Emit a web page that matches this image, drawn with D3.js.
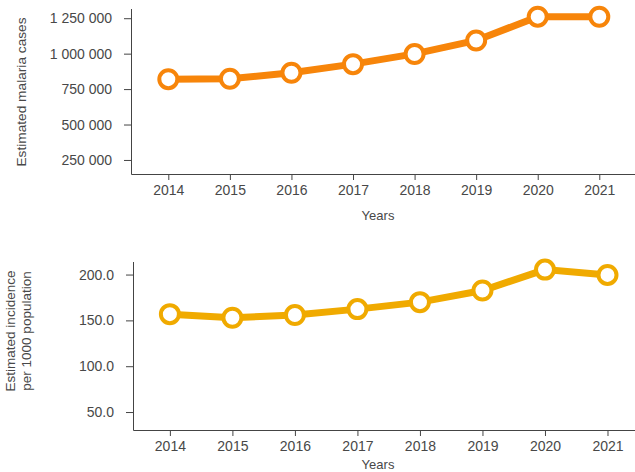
<!DOCTYPE html>
<html>
<head>
<meta charset="utf-8">
<script src="https://cdn.jsdelivr.net/npm/d3@7"></script>
<style>
body { margin: 0; background: #fff; }
svg text { font-family: "Liberation Sans", Arial, sans-serif; fill: #484848; }
.axis line { stroke: #444; }
</style>
</head>
<body>
<div id="chart"></div>
<script>
var years = [2014, 2015, 2016, 2017, 2018, 2019, 2020, 2021];
var cases = [820000, 823000, 865000, 926000, 998000, 1093000, 1261000, 1260000];
var incidence = [156.8, 152.8, 155.8, 162.3, 169.9, 182.6, 205.4, 199.6];
var caseTicks = [250000, 500000, 750000, 1000000, 1250000];
var incTicks = [50, 100, 150, 200];

var W = 635, H = 472;
var svg = d3.select("#chart").append("svg")
  .attr("width", W).attr("height", H);

var loc = d3.formatLocale({decimal: ".", thousands: " ", grouping: [3], currency: ["", ""]});

function panel(cfg) {
  var g = svg.append("g");
  var x = d3.scaleLinear().domain(cfg.xdomain).range([cfg.left, W]);
  var y = d3.scaleLinear().domain(cfg.domain).range([cfg.bottom, cfg.top]);

  var xa = g.append("g").attr("class", "axis")
    .attr("transform", "translate(0," + cfg.bottom + ")")
    .call(d3.axisBottom(x).tickValues(years).tickFormat(d3.format("d")).tickSize(6).tickPadding(5));
  xa.select(".domain").remove();
  xa.selectAll("text").style("font-size", "14px");

  var ya = g.append("g").attr("class", "axis")
    .attr("transform", "translate(" + cfg.left + ",0)")
    .call(d3.axisLeft(y).tickValues(cfg.ticks).tickFormat(cfg.fmt).tickSize(7).tickPadding(12));
  ya.select(".domain").remove();
  ya.selectAll("text").style("font-size", "14px");

  // axis lines
  g.append("path")
    .attr("d", "M" + (cfg.left + 0.5) + "," + cfg.top + "V" + (cfg.bottom + 0.5) + "H" + W)
    .attr("fill", "none")
    .attr("stroke", "#444");

  g.append("text")
    .attr("x", 378).attr("y", cfg.bottom + cfg.yearsDy)
    .attr("text-anchor", "middle")
    .style("font-size", "13px")
    .text("Years");

  var t = g.append("text")
    .attr("transform", "translate(" + cfg.titleX + "," + cfg.titleY + ") rotate(-90)")
    .attr("text-anchor", "middle")
    .style("font-size", cfg.titleSize);
  cfg.title.forEach(function (s, i) {
    t.append("tspan").attr("x", 0).attr("dy", i ? 16 : 0).text(s);
  });

  var line = d3.line()
    .x(function (d, i) { return x(years[i]); })
    .y(function (d) { return y(d); });

  g.append("path").datum(cfg.values)
    .attr("d", line)
    .attr("fill", "none")
    .attr("stroke", cfg.color)
    .attr("stroke-width", 7);

  g.selectAll("circle").data(cfg.values).enter().append("circle")
    .attr("cx", function (d, i) { return x(years[i]); })
    .attr("cy", function (d) { return y(d); })
    .attr("r", 9)
    .attr("fill", "#fff")
    .attr("stroke", cfg.color)
    .attr("stroke-width", 4);
}

panel({
  values: cases, ticks: caseTicks, domain: [151000, 1315000], xdomain: [2013.394, 2021.58],
  top: 9, bottom: 174, left: 131, color: "#f7850a",
  fmt: loc.format(",d"), title: ["Estimated malaria cases"], titleSize: "13.7px",
  titleX: 26, titleY: 92, yearsDy: 46
});

panel({
  values: incidence, ticks: incTicks, domain: [30.4, 213.7], xdomain: [2013.41, 2021.44],
  top: 262, bottom: 430, left: 133, color: "#f0aa00",
  fmt: d3.format(".1f"), title: ["Estimated incidence", "per 1000 population"], titleSize: "13.5px",
  titleX: 15, titleY: 331, yearsDy: 39
});
</script>
</body>
</html>
